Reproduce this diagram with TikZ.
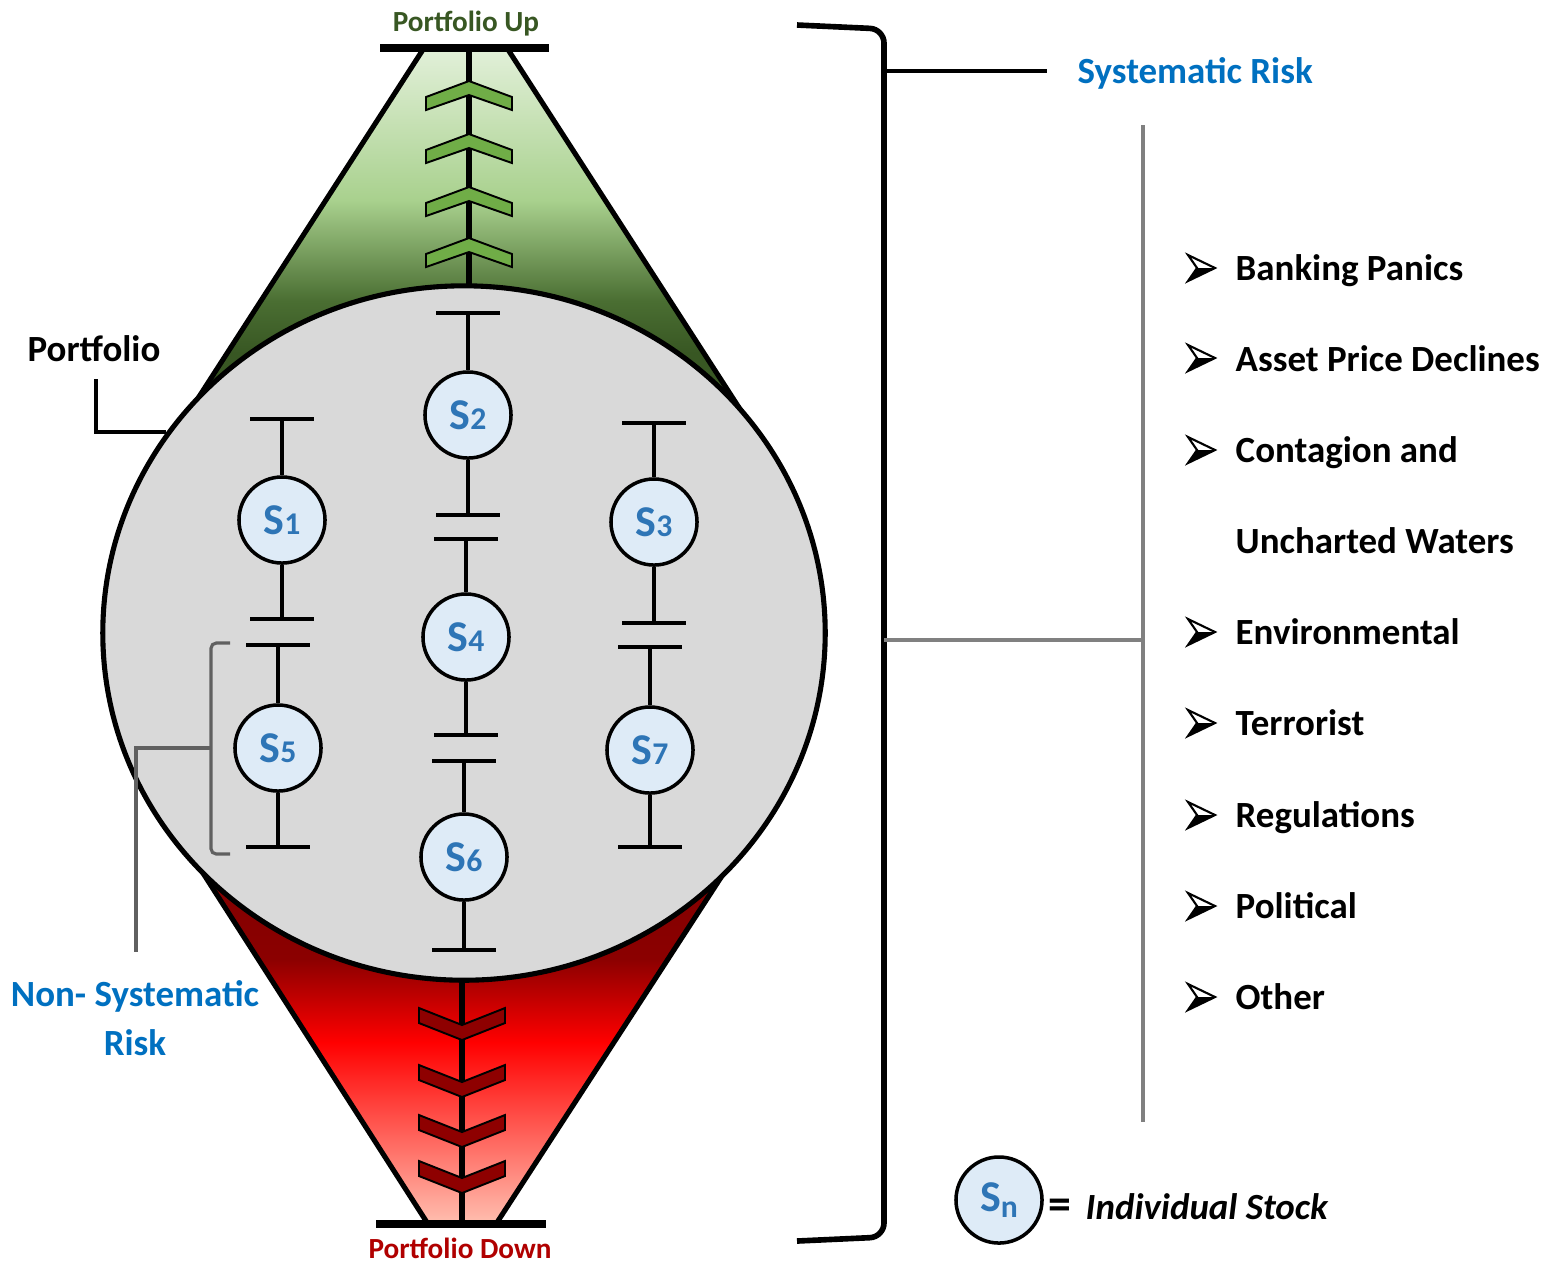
\documentclass[tikz,border=0pt]{standalone}
\usepackage{fontspec}
\setmainfont{Carlito}
\usetikzlibrary{calc,shapes.geometric}

\definecolor{upgreen}{HTML}{385723}
\definecolor{chevgreen}{HTML}{70AD47}
\definecolor{gA}{HTML}{E2F0D9}
\definecolor{gB}{HTML}{A9D18E}
\definecolor{gC}{HTML}{4A6E32}
\definecolor{gD}{HTML}{385723}
\definecolor{rA}{HTML}{7F0000}
\definecolor{rB}{HTML}{8B0000}
\definecolor{rC}{HTML}{FF0000}
\definecolor{rD}{HTML}{FFBFB0}
\definecolor{downred}{HTML}{B00000}
\definecolor{chevred}{HTML}{8E0000}
\definecolor{riskblue}{HTML}{0070C0}
\definecolor{stockblue}{HTML}{2E75B6}
\definecolor{stockfill}{HTML}{DEEBF7}
\definecolor{portgray}{HTML}{D9D9D9}
\definecolor{linegray}{HTML}{808080}
\definecolor{brkgray}{HTML}{606060}

\pgfdeclareverticalshading{upshade}{100bp}{color(0bp)=(gD); color(25bp)=(gD); color(34bp)=(gD); color(41bp)=(gC); color(54.6bp)=(gB); color(75bp)=(gA); color(100bp)=(gA)}
\pgfdeclareverticalshading{downshade}{100bp}{color(0bp)=(rD); color(25bp)=(rD); color(49bp)=(rC); color(60bp)=(rB); color(75bp)=(rA); color(100bp)=(rA)}

\newcommand\stk[1]{{\fontsize{12.5pt}{13pt}\selectfont S}{\fontsize{9pt}{10pt}\selectfont #1}}
\newcommand\tbar[1]{\draw[tick] ($(#1)+(-32,0)$) -- ($(#1)+(32,0)$);}
% chevron pointing up, upper apex at (#1,#2)
\newcommand\chevup[2]{\draw[chev, fill=chevgreen] (#1-43,#2+16) -- (#1,#2) -- (#1+43,#2+16) -- (#1+43,#2+29) -- (#1,#2+14) -- (#1-43,#2+29) -- cycle;}
% chevron pointing down, lower apex at (#1,#2)
\newcommand\chevdown[2]{\draw[chev, fill=chevred] (#1-43,#2-32) -- (#1,#2-15) -- (#1+43,#2-32) -- (#1+43,#2-17) -- (#1,#2) -- (#1-43,#2-17) -- cycle;}
% list bullet: arrowhead pointing right, centred at height #2
\newcommand\bul[2]{%
  \fill (#1+27,#2) -- (#1,#2+13) -- (#1+9,#2) -- cycle;
  \draw[line width=0.6pt, line join=miter] (#1+27,#2) -- (#1,#2-13) -- (#1+9,#2) -- (#1,#2+13) -- cycle;}

\begin{document}
\begin{tikzpicture}[x=0.01cm, y=-0.01cm,
  stock/.style={circle, draw, line width=1pt, fill=stockfill, minimum size=0.86cm,
    inner sep=0pt, text=stockblue, font=\bfseries},
  tick/.style={line width=1.15pt},
  chev/.style={line width=0.55pt, line join=miter},
  side/.style={line width=1.45pt},
  bigfont/.style={font=\bfseries\fontsize{10.5pt}{14pt}\selectfont, inner sep=0pt},
  smallfont/.style={font=\bfseries\fontsize{8.3pt}{10pt}\selectfont, inner sep=0pt},
  item/.style={bigfont, anchor=base west}]
\useasboundingbox (0,0) rectangle (1558,1262);

% upper funnel
\shade[shading=upshade] (424,48) -- (507,48) -- (747,420) -- (184,420) -- cycle;
\draw[side] (424,48) -- (184,420);
\draw[side] (507,48) -- (747,420);
\draw[line width=1.7pt] (469,48) -- (469,300);
\chevup{469}{81}
\chevup{469}{134}
\chevup{469}{187}
\chevup{469}{238}
\draw[line width=2.4pt] (380,48) -- (549,48);

% lower funnel
\shade[shading=downshade] (185,845) -- (742,845) -- (496,1224) -- (428,1224) -- cycle;
\draw[side] (185,845) -- (428,1224);
\draw[side] (742,845) -- (496,1224);
\draw[line width=1.7pt] (462,960) -- (462,1224);
\chevdown{462}{1040}
\chevdown{462}{1097}
\chevdown{462}{1147}
\chevdown{462}{1193}
\draw[line width=2.4pt] (376,1224) -- (546,1224);

\node[smallfont, text=upgreen] (up) at (466,24) {Portfolio Up};
\node[smallfont, text=downred] (down) at (460,1248) {Portfolio Down};

% the portfolio
\node[ellipse, draw, line width=1.45pt, fill=portgray, minimum width=7.22cm,
  minimum height=6.94cm, inner sep=0pt] (port) at (464,633) {};

% stocks
\node[stock] (s1) at (282,520) {\stk{1}};
\node[stock] (s2) at (468,415) {\stk{2}};
\node[stock] (s3) at (654,522) {\stk{3}};
\node[stock] (s4) at (466,637) {\stk{4}};
\node[stock] (s5) at (278,748) {\stk{5}};
\node[stock] (s6) at (464,857) {\stk{6}};
\node[stock] (s7) at (650,750) {\stk{7}};

\coordinate (s1t) at (282,419); \coordinate (s1b) at (282,619);
\coordinate (s5t) at (278,645); \coordinate (s5b) at (278,847);
\coordinate (s2t) at (468,313); \coordinate (s2b) at (468,515);
\coordinate (s4t) at (466,539); \coordinate (s4b) at (466,735);
\coordinate (s6t) at (464,761); \coordinate (s6b) at (464,950);
\coordinate (s3t) at (654,423); \coordinate (s3b) at (654,623);
\coordinate (s7t) at (650,647); \coordinate (s7b) at (650,847);

\foreach \s in {s1,s2,s3,s4,s5,s6,s7}{
  \draw[tick] (\s t) -- (\s);
  \draw[tick] (\s) -- (\s b);
  \tbar{\s t}
  \tbar{\s b}
}

% portfolio label
\node[bigfont] (plbl) at (94,349) {Portfolio};
\coordinate (pc) at (96,379);
\draw[line width=1pt] (pc) |- (port.146);

% non-systematic risk
\draw[brkgray, line width=0.9pt, rounded corners=1.5pt] (230,643) -- (211,643) -- (211,854) -- (230,854);
\coordinate (nb) at (211,748);
\coordinate (nse) at (136,952);
\draw[brkgray, line width=0.9pt] (nb) -| (nse);
\node[bigfont, text=riskblue, align=center] (nsr) at (135,1018) {Non- Systematic\\Risk};

% systematic risk bracket
\draw[line width=1.6pt, rounded corners=4pt] (797,25) -- (884,29) -- (884,1237) -- (797,1241);
\coordinate (brk) at (884,71);
\coordinate (sysend) at (1047,71);
\draw[line width=1.3pt] (brk) -- (sysend);
\node[bigfont, text=riskblue, anchor=base west] (sys) at (1077,83) {Systematic Risk};

\coordinate (brkm) at (884,640);
\coordinate (gj) at (1143,640);
\draw[linegray, line width=1.1pt] (brkm) -- (gj);
\coordinate (gtop) at (1143,125);
\coordinate (gbot) at (1143,1122);
\draw[linegray, line width=1.1pt] (gtop) -- (gbot);

% list of systematic risks
\bul{1188}{268} \node[item] (i1) at (1235,280) {Banking Panics};
\bul{1188}{358} \node[item] (i2) at (1235,371) {Asset Price Declines};
\bul{1188}{450} \node[item] (i3) at (1235,462) {Contagion and};
\node[item] (i3b) at (1235,553) {Uncharted Waters};
\bul{1188}{632} \node[item] (i4) at (1235,644) {Environmental};
\bul{1188}{723} \node[item] (i5) at (1235,735) {Terrorist};
\bul{1188}{815} \node[item] (i6) at (1235,827) {Regulations};
\bul{1188}{906} \node[item] (i7) at (1235,918) {Political};
\bul{1188}{997} \node[item] (i8) at (1235,1009) {Other};

% legend
\node[stock] (sn) at (999,1200) {{\fontsize{12.5pt}{13pt}\selectfont S}\raisebox{-1.6pt}{\fontsize{9pt}{10pt}\selectfont n}};
\node[font=\bfseries\fontsize{13pt}{14pt}\selectfont, inner sep=0pt, anchor=base west] (eq) at (1048,1219) {=};
\node[bigfont, anchor=base west] (leg) at (1085,1219) {\itshape Individual Stock};
\end{tikzpicture}
\end{document}
